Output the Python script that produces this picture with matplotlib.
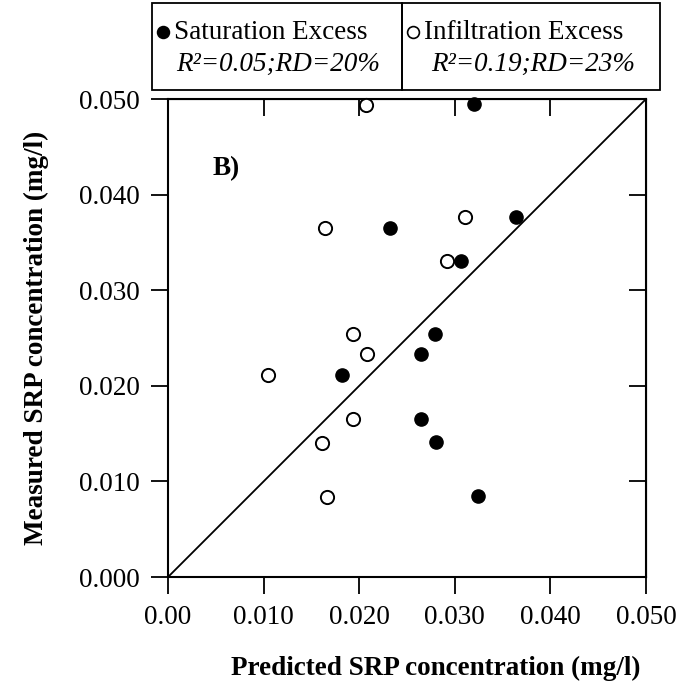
import matplotlib
matplotlib.use("Agg")
from matplotlib import pyplot as plt
from matplotlib.patches import Rectangle
from matplotlib.lines import Line2D

# predicted (x) vs measured (y) SRP, mg/l
sat_pred = [0.0320, 0.0232, 0.0364, 0.0307, 0.0279, 0.0265, 0.0182, 0.0265, 0.0280, 0.0324]
sat_meas = [0.0495, 0.0365, 0.0377, 0.0331, 0.0254, 0.0233, 0.0211, 0.0165, 0.0141, 0.0085]

inf_pred = [0.0207, 0.0164, 0.0311, 0.0292, 0.0193, 0.0208, 0.0105, 0.0194, 0.0161, 0.0166]
inf_meas = [0.0494, 0.0365, 0.0377, 0.0331, 0.0254, 0.0233, 0.0211, 0.0165, 0.0140, 0.0084]

ticks = [0.0, 0.01, 0.02, 0.03, 0.04, 0.05]
x_ticklabels = ["0.00", "0.010", "0.020", "0.030", "0.040", "0.050"]
y_ticklabels = ["0.000", "0.010", "0.020", "0.030", "0.040", "0.050"]

legend_names = ["Saturation Excess", "Infiltration Excess"]
legend_stats = ["R\u00b2=0.05;RD=20%", "R\u00b2=0.19;RD=23%"]

SERIF = "Liberation Serif"
FS = 19.5

fig = plt.figure(figsize=(6.98, 6.84), dpi=100)
ax = fig.add_axes([0.2407, 0.1564, 0.6848, 0.6988])

ax.plot([0, 0.05], [0, 0.05], color="black", lw=1.3, zorder=1)
ax.plot(sat_pred, sat_meas, "o", ms=9.5, mfc="black", mec="black", zorder=3, clip_on=False)
ax.plot(inf_pred, inf_meas, "o", ms=9.5, mfc="white", mec="black", mew=1.4, zorder=3, clip_on=False)

ax.set_xlim(0, 0.05)
ax.set_ylim(0, 0.05)
ax.set_xticks(ticks)
ax.set_yticks(ticks)
ax.set_xticklabels(x_ticklabels, fontfamily=SERIF, fontsize=FS)
ax.set_yticklabels(y_ticklabels, fontfamily=SERIF, fontsize=FS)
ax.tick_params(direction="out", length=12, width=1.3, pad=8)
for sp in ax.spines.values():
    sp.set_linewidth(1.5)

top = ax.secondary_xaxis("top")
top.set_xticks(ticks[1:-1])
top.tick_params(direction="in", length=12, width=1.3, labeltop=False)
right = ax.secondary_yaxis("right")
right.set_yticks(ticks[1:-1])
right.tick_params(direction="in", length=12, width=1.3, labelright=False)

ax.set_xlabel("Predicted SRP concentration (mg/l)", fontfamily=SERIF, fontsize=FS,
              fontweight="bold")
ax.xaxis.set_label_coords(0.56, -0.165)
ax.set_ylabel("Measured SRP concentration (mg/l)", fontfamily=SERIF, fontsize=FS,
              fontweight="bold")
ax.yaxis.set_label_coords(-0.25, 0.5)

ax.text(0.0047, 0.0427, "B)", fontfamily=SERIF, fontsize=FS, fontweight="bold",
        va="center", ha="left")

# legend: two boxes side by side above the plot
box_x = [0.218, 0.576]
box_w = [0.358, 0.370]
box_y, box_h = 0.868, 0.127
fills = ["black", "white"]
for i in range(2):
    fig.add_artist(Rectangle((box_x[i], box_y), box_w[i], box_h, transform=fig.transFigure,
                             fill=False, lw=1.3, ec="black"))
    fig.add_artist(Line2D([box_x[i] + 0.016], [0.953], transform=fig.transFigure, marker="o",
                          ms=8.5, mfc=fills[i], mec="black", mew=1.2, ls="none"))
    fig.text(box_x[i] + 0.031, 0.953, legend_names[i], fontfamily=SERIF, fontsize=FS,
             va="center", ha="left")
    fig.text(box_x[i] + 0.035 + 0.007 * i, 0.906, legend_stats[i], fontfamily=SERIF,
             fontsize=FS, style="italic", va="center", ha="left")

fig.savefig("out.png", dpi=100)
